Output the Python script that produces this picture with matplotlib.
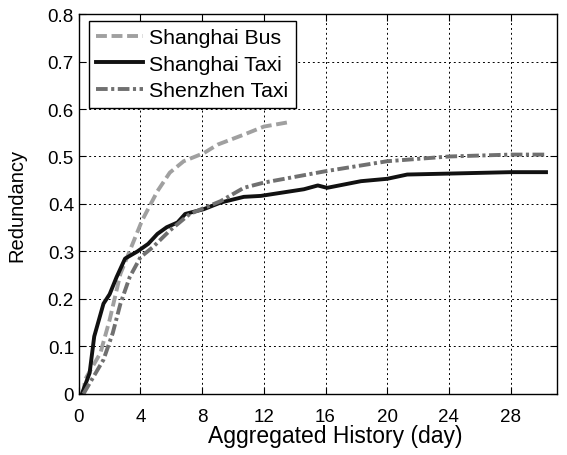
import matplotlib
matplotlib.use("Agg")
import matplotlib.pyplot as plt

plt.rcParams['font.family'] = ['Liberation Sans', 'DejaVu Sans']

# dados
bus_x = [0.3, 0.4, 1.4, 2.0, 2.7, 3.4, 4.1, 5.1, 5.9, 6.8, 8.1, 9.0, 10.7, 12.0, 13.75]
bus_y = [0.0, 0.03, 0.086, 0.156, 0.253, 0.309, 0.365, 0.427, 0.466, 0.49, 0.507, 0.525, 0.546, 0.563, 0.573]

sh_taxi_x = [0.2, 0.7, 1.0, 1.6, 2.0, 2.45, 3.0, 3.8, 4.5, 5.1, 5.7, 6.4, 6.9, 8.1, 9.2, 10.7,
             11.8, 14.6, 15.5, 16.1, 18.3, 20.0, 21.3, 24.0, 28.0, 30.3]
sh_taxi_y = [0.0, 0.044, 0.121, 0.19, 0.21, 0.246, 0.285, 0.30, 0.316, 0.337, 0.351, 0.361, 0.379,
             0.389, 0.403, 0.415, 0.417, 0.431, 0.439, 0.434, 0.448, 0.453, 0.462, 0.464, 0.467, 0.467]

sz_taxi_x = [0.3, 1.6, 2.2, 2.7, 3.3, 4.0, 4.8, 5.9, 7.2, 9.2, 10.7, 12.0, 16.0, 20.0, 24.0, 28.0, 30.3]
sz_taxi_y = [0.0, 0.072, 0.128, 0.19, 0.246, 0.288, 0.309, 0.344, 0.379, 0.406, 0.434, 0.445,
             0.469, 0.49, 0.50, 0.504, 0.504]

xticks = [0, 4, 8, 12, 16, 20, 24, 28]
yticks = [0, 0.1, 0.2, 0.3, 0.4, 0.5, 0.6, 0.7, 0.8]
ytick_labels = ['0', '0.1', '0.2', '0.3', '0.4', '0.5', '0.6', '0.7', '0.8']

fig = plt.figure(figsize=(5.67, 4.56), dpi=100)
ax = fig.add_axes([0.139, 0.134, 0.843, 0.833])

ax.plot(bus_x, bus_y, color='#a0a0a0', lw=2.8, dashes=(2.8, 1.2), label='Shanghai Bus')
ax.plot(sh_taxi_x, sh_taxi_y, '-', color='#111111', lw=2.8, label='Shanghai Taxi')
ax.plot(sz_taxi_x, sz_taxi_y, color='#707070', lw=2.8, dashes=(3.0, 0.9, 0.8, 0.9), label='Shenzhen Taxi')

ax.set_xlim(0, 31)
ax.set_ylim(0, 0.8)
ax.set_xticks(xticks)
ax.set_yticks(yticks)
ax.set_yticklabels(ytick_labels)
ax.tick_params(direction='in', top=True, right=True, labelsize=13.5, length=5, colors='black')
ax.tick_params(axis='x', pad=10)
ax.grid(True, color='black', linestyle=(0, (2, 3)), linewidth=0.7)

ax.set_xlabel('Aggregated History (day)', fontsize=16.5)
ax.xaxis.set_label_coords(0.536, -0.078)
ax.set_ylabel('Redundancy', fontsize=14.5, labelpad=15)

leg = ax.legend(loc='upper left', bbox_to_anchor=(0.021, 0.982), borderaxespad=0,
                fontsize=15.3, fancybox=False, framealpha=1, edgecolor='black',
                handlelength=2.2, borderpad=0.35, labelspacing=0.35, handletextpad=0.3)
leg.get_frame().set_linewidth(1.0)

for s in ax.spines.values():
    s.set_linewidth(1.0)

fig.savefig('out.png', dpi=100)
